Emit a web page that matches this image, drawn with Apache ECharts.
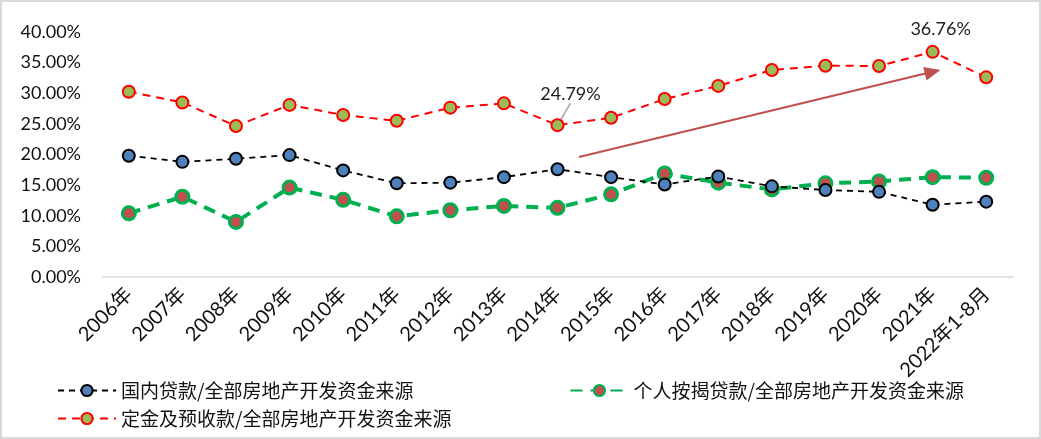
<!DOCTYPE html>
<html>
<head>
<meta charset="utf-8">
<script src="https://cdn.jsdelivr.net/npm/echarts@6/dist/echarts.min.js"></script>
<style>
html,body{margin:0;padding:0;background:#fff;}
#c{width:1041px;height:439px;box-sizing:border-box;border:2px solid #d9d9d9;}
</style>
</head>
<body>
<div id="c"></div>
<script>
var categories = ['2006年','2007年','2008年','2009年','2010年','2011年','2012年','2013年','2014年','2015年','2016年','2017年','2018年','2019年','2020年','2021年','2022年1-8月'];
var seriesNames = ['国内贷款/全部房地产开发资金来源','个人按揭贷款/全部房地产开发资金来源','定金及预收款/全部房地产开发资金来源'];
var domesticLoan = [19.8, 18.8, 19.3, 19.9, 17.4, 15.3, 15.4, 16.3, 17.6, 16.3, 15.1, 16.4, 14.8, 14.2, 13.9, 11.8, 12.3];
var mortgageLoan = [10.4, 13.1, 9.0, 14.6, 12.6, 9.9, 10.9, 11.6, 11.3, 13.5, 16.9, 15.4, 14.3, 15.3, 15.6, 16.3, 16.2];
var depositAdvance = [30.25, 28.5, 24.65, 28.1, 26.45, 25.5, 27.65, 28.35, 24.79, 26.0, 29.05, 31.2, 33.8, 34.5, 34.45, 36.76, 32.6];
var yTicks = {min: 0, max: 40, interval: 5};
var labeledPoints = [8, 15];
// trend arrow, in (category position, percent)
var trendArrow = [[8.4, 19.6], [15.0, 33.5]];

var numFont = 'Lato, "Noto Sans CJK SC", sans-serif';
var cjkFont = '"Noto Sans CJK SC", sans-serif';

function withLabels(arr){
  return arr.map(function(v, i){
    var k = labeledPoints.indexOf(i);
    if (k >= 0) {
      return {value: v,
        label: {show: true, position: 'top', formatter: v.toFixed(2) + '%'},
        labelLine: {show: k === 0}};
    }
    return v;
  });
}

var chart = echarts.init(document.getElementById('c'), null, {renderer: 'canvas'});
chart.setOption({
  backgroundColor: '#fff',
  animation: false,
  grid: {left: 100, right: 26, top: 30, bottom: 160},
  legend: [{
    data: [seriesNames[0], seriesNames[1]],
    left: 50, top: 374,
    itemWidth: 58, itemHeight: 14, itemGap: 156,
    textStyle: {fontFamily: cjkFont, fontSize: 19, color: '#111'}
  }, {
    data: [seriesNames[2]],
    left: 50, top: 402,
    itemWidth: 58, itemHeight: 14,
    textStyle: {fontFamily: cjkFont, fontSize: 19, color: '#111'}
  }],
  xAxis: [{
    type: 'category',
    data: categories,
    boundaryGap: true,
    axisLine: {lineStyle: {color: '#d9d9d9', width: 1.5}},
    axisTick: {show: false},
    axisLabel: {rotate: 45, interval: 0, margin: 14, fontSize: 20, color: '#111', fontFamily: numFont}
  }, {
    type: 'value',
    min: -0.5, max: categories.length - 0.5,
    show: false
  }],
  yAxis: {
    type: 'value',
    min: yTicks.min, max: yTicks.max, interval: yTicks.interval,
    splitLine: {show: false},
    axisLine: {show: false},
    axisTick: {show: false},
    axisLabel: {margin: 21, fontSize: 18, color: '#111', fontFamily: numFont,
      formatter: function(v){ return v.toFixed(2) + '%'; }}
  },
  series: [{
    name: seriesNames[0],
    type: 'line',
    data: domesticLoan,
    symbol: 'circle', symbolSize: 12,
    lineStyle: {color: '#000', width: 1.8, type: [6, 5]},
    itemStyle: {color: '#4F81BD', borderColor: '#000', borderWidth: 2},
    z: 3
  }, {
    name: seriesNames[1],
    type: 'line',
    data: mortgageLoan,
    symbol: 'circle', symbolSize: 13,
    lineStyle: {color: '#00B050', width: 4, type: [12, 8]},
    itemStyle: {color: '#C0504D', borderColor: '#00B050', borderWidth: 3},
    z: 2
  }, {
    name: seriesNames[2],
    type: 'line',
    data: withLabels(depositAdvance),
    symbol: 'circle', symbolSize: 12,
    lineStyle: {color: '#FF0000', width: 2, type: [8, 6]},
    itemStyle: {color: '#9BBB59', borderColor: '#FF0000', borderWidth: 2},
    label: {fontSize: 18, color: '#222', fontFamily: numFont},
    labelLine: {show: true, lineStyle: {color: '#a6a6a6', width: 1.5}},
    labelLayout: function(p){
      if (p.dataIndex === labeledPoints[0]) return {dx: 13, dy: -10};
      if (p.dataIndex === labeledPoints[1]) return {dx: 8, dy: -2};
      return {};
    },
    z: 4
  }, {
    name: 'trend',
    type: 'line',
    xAxisIndex: 1,
    data: trendArrow,
    showSymbol: false,
    silent: true,
    lineStyle: {opacity: 0},
    markLine: {
      silent: true,
      symbol: ['none', 'triangle'],
      symbolSize: [14, 16],
      label: {show: false},
      lineStyle: {color: '#C0504D', width: 2, type: 'solid'},
      data: [[{coord: trendArrow[0]}, {coord: trendArrow[1]}]]
    },
    z: 5
  }]
});
</script>
</body>
</html>
